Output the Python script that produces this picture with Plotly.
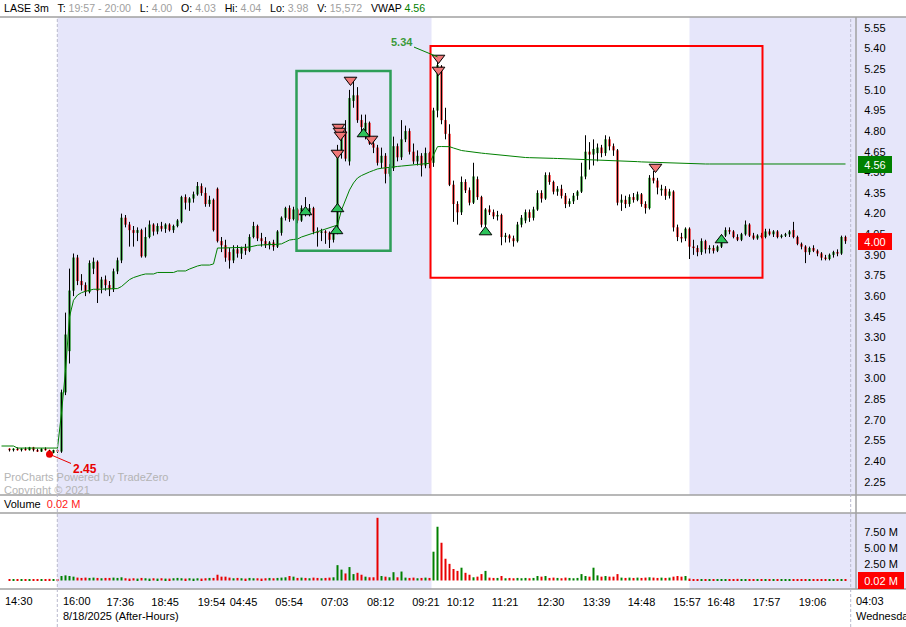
import plotly.graph_objects as go

# ---------------- data (one bar = one 6-minute slot on the session axis) ----------------
bar_index = list(range(2, 212))

opens = [
    2.49, 2.48, 2.49, 2.48, 2.49, 2.48, 2.50, 2.48, 2.47, 2.49,
    2.48, 2.46, 2.48, 2.47, 2.90, 3.20, 3.64, 3.88, 3.71, 3.68,
    3.63, 3.80, 3.85, 3.66, 3.72, 3.68, 3.65, 3.78, 3.86, 4.17,
    4.12, 4.08, 4.06, 4.08, 3.89, 4.03, 4.12, 4.07, 4.11, 4.09,
    4.12, 4.08, 4.11, 4.14, 4.32, 4.28, 4.31, 4.34, 4.40, 4.35,
    4.27, 4.30, 4.38, 4.00, 3.97, 3.92, 3.86, 3.94, 3.91, 3.95,
    3.93, 4.03, 4.11, 4.02, 4.00, 3.97, 3.99, 3.96, 4.06, 4.17,
    4.24, 4.16, 4.23, 4.15, 4.24, 4.20, 4.24, 4.07, 4.06, 4.07,
    4.06, 4.01, 4.07, 4.64, 4.80, 4.58, 5.02, 5.06, 4.88, 4.80,
    4.86, 4.71, 4.68, 4.57, 4.62, 4.49, 4.53, 4.69, 4.61, 4.74,
    4.80, 4.65, 4.58, 4.62, 4.55, 4.64, 4.57, 4.95, 5.27, 4.88,
    4.78, 4.41, 4.27, 4.21, 4.43, 4.37, 4.28, 4.45, 4.32, 4.12,
    4.23, 4.21, 4.18, 4.19, 4.03, 4.04, 4.02, 4.00, 4.12, 4.15,
    4.21, 4.17, 4.23, 4.35, 4.31, 4.48, 4.43, 4.36, 4.38, 4.33,
    4.27, 4.29, 4.33, 4.36, 4.47, 4.65, 4.63, 4.64, 4.68, 4.64,
    4.74, 4.69, 4.66, 4.28, 4.30, 4.27, 4.32, 4.30, 4.34, 4.27,
    4.24, 4.46, 4.44, 4.37, 4.38, 4.33, 4.36, 4.10, 4.03, 4.02,
    4.09, 3.96, 3.95, 3.92, 4.00, 3.94, 3.95, 3.93, 3.96, 4.04,
    4.08, 4.07, 4.03, 4.01, 4.05, 4.12, 4.04, 4.02, 4.04, 4.03,
    4.07, 4.05, 4.07, 4.03, 4.04, 4.05, 4.08, 4.03, 3.98, 3.96,
    3.92, 3.95, 3.93, 3.91, 3.88, 3.87, 3.90, 3.92, 3.91, 4.03,
]
highs = [
    2.49, 2.49, 2.50, 2.49, 2.50, 2.50, 2.50, 2.49, 2.49, 2.50,
    2.48, 2.48, 2.49, 2.92, 3.48, 3.80, 3.91, 3.90, 3.76, 3.70,
    3.86, 3.88, 3.86, 3.74, 3.75, 3.71, 3.80, 3.88, 4.20, 4.19,
    4.14, 4.11, 4.10, 4.09, 4.10, 4.15, 4.13, 4.13, 4.14, 4.13,
    4.13, 4.12, 4.16, 4.33, 4.34, 4.32, 4.36, 4.43, 4.42, 4.39,
    4.33, 4.31, 4.39, 4.03, 4.01, 3.95, 3.97, 3.97, 3.96, 3.98,
    4.05, 4.14, 4.12, 4.06, 4.03, 4.00, 4.01, 4.08, 4.18, 4.25,
    4.26, 4.25, 4.24, 4.26, 4.32, 4.27, 4.25, 4.10, 4.09, 4.08,
    4.07, 4.09, 4.70, 4.82, 4.88, 5.10, 5.16, 5.12, 4.92, 4.92,
    4.87, 4.76, 4.70, 4.68, 4.64, 4.56, 4.76, 4.71, 4.88, 4.84,
    4.82, 4.71, 4.66, 4.64, 4.68, 4.65, 4.97, 5.34, 5.28, 4.97,
    4.85, 4.44, 4.29, 4.47, 4.45, 4.39, 4.57, 4.47, 4.33, 4.24,
    4.26, 4.23, 4.22, 4.20, 4.06, 4.05, 4.04, 4.14, 4.19, 4.23,
    4.23, 4.25, 4.37, 4.37, 4.50, 4.50, 4.44, 4.40, 4.41, 4.35,
    4.31, 4.35, 4.37, 4.57, 4.77, 4.72, 4.74, 4.71, 4.70, 4.77,
    4.76, 4.71, 4.67, 4.34, 4.33, 4.34, 4.35, 4.36, 4.35, 4.29,
    4.48, 4.51, 4.46, 4.41, 4.40, 4.38, 4.37, 4.12, 4.06, 4.10,
    4.10, 4.01, 3.97, 4.02, 4.01, 3.97, 3.97, 3.97, 4.05, 4.10,
    4.10, 4.08, 4.05, 4.06, 4.15, 4.13, 4.06, 4.05, 4.06, 4.09,
    4.09, 4.08, 4.08, 4.05, 4.06, 4.08, 4.14, 4.04, 3.99, 3.97,
    3.96, 3.97, 3.94, 3.92, 3.90, 3.91, 3.93, 3.94, 4.04, 4.04,
]
lows = [
    2.47, 2.47, 2.48, 2.47, 2.48, 2.48, 2.47, 2.47, 2.47, 2.48,
    2.45, 2.46, 2.46, 2.46, 2.88, 3.11, 3.60, 3.68, 3.64, 3.60,
    3.62, 3.76, 3.55, 3.62, 3.64, 3.60, 3.63, 3.76, 3.84, 4.10,
    3.96, 3.96, 4.00, 3.88, 3.88, 4.02, 4.04, 4.05, 4.07, 4.06,
    4.07, 4.06, 4.10, 4.13, 4.23, 4.22, 4.28, 4.33, 4.33, 4.25,
    4.25, 4.07, 3.99, 3.92, 3.85, 3.80, 3.84, 3.88, 3.87, 3.90,
    3.92, 4.02, 4.00, 3.96, 3.95, 3.94, 3.93, 3.95, 4.04, 4.15,
    4.14, 4.15, 4.13, 4.14, 4.18, 4.18, 4.05, 3.96, 4.00, 3.98,
    3.95, 3.99, 4.05, 4.60, 4.58, 4.55, 4.97, 4.86, 4.78, 4.74,
    4.70, 4.64, 4.55, 4.53, 4.42, 4.47, 4.51, 4.58, 4.59, 4.72,
    4.63, 4.56, 4.55, 4.47, 4.53, 4.53, 4.54, 4.90, 4.85, 4.74,
    4.40, 4.14, 4.12, 4.19, 4.35, 4.26, 4.27, 4.30, 4.10, 4.10,
    4.19, 4.16, 4.15, 3.97, 3.99, 3.99, 3.96, 3.99, 4.10, 4.13,
    4.14, 4.15, 4.22, 4.28, 4.30, 4.41, 4.34, 4.33, 4.31, 4.24,
    4.25, 4.27, 4.30, 4.35, 4.45, 4.52, 4.55, 4.58, 4.61, 4.62,
    4.66, 4.62, 4.26, 4.22, 4.24, 4.25, 4.28, 4.29, 4.25, 4.20,
    4.23, 4.42, 4.34, 4.33, 4.30, 4.31, 4.07, 4.00, 3.99, 4.00,
    3.87, 3.90, 3.89, 3.90, 3.91, 3.91, 3.91, 3.92, 3.95, 4.03,
    4.05, 4.02, 4.00, 4.00, 4.04, 4.03, 4.01, 4.01, 4.02, 4.02,
    4.04, 4.03, 4.02, 4.02, 4.03, 4.03, 4.02, 3.97, 3.94, 3.84,
    3.90, 3.92, 3.89, 3.86, 3.86, 3.86, 3.88, 3.89, 3.90, 3.98,
]
closes = [
    2.48, 2.49, 2.48, 2.49, 2.48, 2.50, 2.48, 2.47, 2.49, 2.48,
    2.46, 2.48, 2.47, 2.90, 3.32, 3.64, 3.88, 3.71, 3.68, 3.63,
    3.84, 3.85, 3.64, 3.72, 3.68, 3.65, 3.78, 3.86, 4.17, 4.12,
    4.08, 4.06, 4.08, 3.89, 4.03, 4.12, 4.07, 4.11, 4.09, 4.12,
    4.08, 4.11, 4.15, 4.32, 4.28, 4.31, 4.34, 4.40, 4.35, 4.27,
    4.30, 4.08, 4.00, 3.97, 3.88, 3.86, 3.94, 3.91, 3.95, 3.93,
    4.03, 4.11, 4.02, 4.00, 3.97, 3.99, 3.96, 4.07, 4.17, 4.24,
    4.16, 4.23, 4.15, 4.24, 4.20, 4.24, 4.07, 4.06, 4.07, 4.06,
    4.01, 4.07, 4.64, 4.76, 4.60, 5.04, 5.06, 4.88, 4.83, 4.86,
    4.71, 4.68, 4.57, 4.62, 4.49, 4.53, 4.69, 4.61, 4.74, 4.80,
    4.65, 4.58, 4.62, 4.55, 4.64, 4.57, 4.95, 5.28, 4.88, 4.78,
    4.41, 4.27, 4.21, 4.43, 4.37, 4.28, 4.47, 4.32, 4.12, 4.23,
    4.21, 4.18, 4.19, 4.03, 4.04, 4.02, 4.00, 4.12, 4.17, 4.21,
    4.17, 4.23, 4.35, 4.31, 4.48, 4.43, 4.36, 4.38, 4.33, 4.27,
    4.29, 4.33, 4.36, 4.47, 4.65, 4.63, 4.67, 4.68, 4.64, 4.74,
    4.69, 4.66, 4.28, 4.30, 4.27, 4.32, 4.30, 4.34, 4.27, 4.24,
    4.46, 4.44, 4.39, 4.38, 4.33, 4.36, 4.10, 4.03, 4.02, 4.09,
    3.96, 3.95, 3.92, 4.00, 3.94, 3.95, 3.93, 3.96, 4.04, 4.08,
    4.07, 4.03, 4.01, 4.05, 4.12, 4.04, 4.02, 4.04, 4.03, 4.07,
    4.05, 4.07, 4.03, 4.04, 4.05, 4.07, 4.03, 3.98, 3.96, 3.92,
    3.95, 3.93, 3.91, 3.88, 3.87, 3.90, 3.92, 3.91, 4.03, 4.00,
]
volumes_m = [
    0.18, 0.15, 0.18, 0.15, 0.20, 0.15, 0.18, 0.15, 0.18, 0.20,
    0.25, 0.18, 0.20, 0.70, 0.80, 0.70, 0.60, 0.45, 0.40, 0.45,
    0.40, 0.45, 0.40, 0.35, 0.40, 0.40, 0.45, 0.40, 0.50, 0.35,
    0.30, 0.35, 0.30, 0.40, 0.35, 0.30, 0.35, 0.30, 0.35, 0.30,
    0.30, 0.35, 0.40, 0.35, 0.30, 0.35, 0.30, 0.35, 0.30, 0.35,
    0.40, 0.40, 0.90, 0.60, 0.60, 0.45, 0.35, 0.40, 0.35, 0.30,
    0.40, 0.35, 0.35, 0.30, 0.35, 0.40, 0.35, 0.40, 0.45, 0.50,
    0.70, 0.60, 0.40, 0.45, 0.40, 0.35, 0.45, 0.40, 0.35, 0.40,
    0.45, 0.50, 2.40, 1.70, 1.10, 2.10, 1.00, 1.20, 0.90, 0.60,
    0.50, 0.50, 9.80, 0.70, 0.60, 0.50, 1.30, 0.50, 1.40, 0.45,
    0.40, 0.45, 0.35, 0.40, 0.45, 0.40, 4.50, 8.40, 5.90, 3.40,
    2.60, 1.80, 1.50, 2.00, 1.20, 0.90, 0.50, 0.60, 1.00, 1.50,
    0.45, 0.40, 0.40, 0.70, 0.35, 0.40, 0.35, 0.40, 0.35, 0.40,
    0.35, 0.40, 0.70, 0.60, 0.70, 0.40, 0.45, 0.40, 0.35, 0.45,
    0.40, 0.35, 0.40, 1.00, 0.70, 0.60, 2.00, 0.80, 0.60, 0.70,
    0.60, 0.60, 1.00, 0.45, 0.40, 0.45, 0.40, 0.45, 0.40, 0.45,
    0.50, 0.45, 0.40, 0.45, 0.40, 0.45, 0.60, 0.70, 0.60, 0.70,
    0.30, 0.20, 0.18, 0.15, 0.18, 0.15, 0.18, 0.15, 0.20, 0.18,
    0.15, 0.18, 0.25, 0.15, 0.18, 0.15, 0.18, 0.20, 0.15, 0.18,
    0.15, 0.18, 0.15, 0.20, 0.18, 0.15, 0.18, 0.20, 0.15, 0.18,
    0.15, 0.20, 0.18, 0.15, 0.18, 0.15, 0.18, 0.15, 0.20, 0.18,
]
vwap_index = list(range(0, 212))
vwap = [
    2.510, 2.510, 2.510, 2.510, 2.495, 2.495, 2.495, 2.495, 2.495, 2.495,
    2.495, 2.495, 2.495, 2.495, 2.495, 2.750, 3.060, 3.450, 3.570, 3.608,
    3.625, 3.635, 3.642, 3.650, 3.650, 3.650, 3.650, 3.650, 3.650, 3.655,
    3.670, 3.692, 3.720, 3.735, 3.746, 3.754, 3.761, 3.761, 3.761, 3.772,
    3.772, 3.772, 3.772, 3.772, 3.783, 3.783, 3.783, 3.797, 3.810, 3.819,
    3.826, 3.826, 3.826, 3.834, 3.950, 3.950, 3.950, 3.950, 3.950, 3.950,
    3.950, 3.955, 3.957, 3.964, 3.970, 3.972, 3.975, 3.975, 3.975, 3.975,
    3.980, 3.994, 4.008, 4.012, 4.015, 4.030, 4.040, 4.050, 4.061, 4.070,
    4.078, 4.088, 4.098, 4.108, 4.117, 4.226, 4.299, 4.372, 4.423, 4.459,
    4.477, 4.492, 4.503, 4.514, 4.525, 4.530, 4.532, 4.534, 4.539, 4.543,
    4.546, 4.549, 4.551, 4.554, 4.557, 4.561, 4.563, 4.566, 4.626, 4.687,
    4.688, 4.688, 4.687, 4.677, 4.666, 4.659, 4.655, 4.650, 4.647, 4.643,
    4.640, 4.637, 4.634, 4.630, 4.626, 4.623, 4.619, 4.615, 4.613, 4.610,
    4.609, 4.608, 4.607, 4.607, 4.606, 4.606, 4.605, 4.603, 4.602, 4.601,
    4.600, 4.599, 4.598, 4.597, 4.597, 4.596, 4.595, 4.594, 4.593, 4.591,
    4.590, 4.589, 4.587, 4.586, 4.585, 4.583, 4.582, 4.581, 4.579, 4.578,
    4.576, 4.575, 4.573, 4.572, 4.570, 4.569, 4.567, 4.566, 4.565, 4.563,
    4.562, 4.562, 4.561, 4.561, 4.561, 4.561, 4.561, 4.561, 4.561, 4.561,
    4.561, 4.561, 4.561, 4.561, 4.561, 4.561, 4.561, 4.561, 4.561, 4.561,
    4.561, 4.561, 4.561, 4.561, 4.561, 4.561, 4.561, 4.561, 4.561, 4.561,
    4.561, 4.561, 4.561, 4.561, 4.561, 4.561, 4.561, 4.561, 4.561, 4.561,
    4.561, 4.561,
]

# trade signals (bar position, price)
sell_x = [87.25, 84.25, 84.5, 84.75, 84.0, 92.5, 109.25, 109.25, 163.5]
sell_p = [5.172, 4.830, 4.801, 4.772, 4.641, 4.743, 5.332, 5.245, 4.539]
buy_x = [76.0, 84.0, 83.75, 90.5, 121.0, 180.0]
buy_p = [4.212, 4.234, 4.074, 4.779, 4.066, 4.008]

# drawn boxes (bar position range, price range)
green_box = (73.75, 97.25, 3.930, 5.237)
red_box = (107.25, 190.25, 3.734, 5.419)

# sessions (bar positions of session edges)
ext_sessions = [(14.0, 107.5), (172.0, 222.0)]

price_ticks = [2.25, 2.40, 2.55, 2.70, 2.85, 3.00, 3.15, 3.30, 3.45, 3.60, 3.75, 3.90,
               4.05, 4.20, 4.35, 4.50, 4.65, 4.80, 4.95, 5.10, 5.25, 5.40, 5.55]
vol_ticks = [2.5, 5.0, 7.5]
vol_tick_text = ["2.50 M", "5.00 M", "7.50 M"]
time_tick_pos = [29.7, 40.9, 52.5, 60.5, 71.9, 83.3, 94.8, 106.1, 114.75, 125.9,
                 137.3, 148.75, 160.0, 171.4, 179.9, 191.25, 202.75]
time_tick_text = ["17:36", "18:45", "19:54", "04:45", "05:54", "07:03", "08:12", "09:21",
                  "10:12", "11:21", "12:30", "13:39", "14:48", "15:57", "16:48", "17:57", "19:06"]
day_labels = [(0.25, "14:30"), (14.9, "16:00"), (213.1, "04:03")]

hi_point = (109, 5.34)
lo_point = (12, 2.45)
last_price = 4.00
last_vwap = 4.56
last_volume = 0.02

# ---------------- styling ----------------
W, H = 906, 627
PR = 856          # right edge of plot area (px)
TOP, BOT = 17, 589
PH = BOT - TOP
FONT = "Liberation Sans, Arial, sans-serif"
GREEN = "#008000"
RED = "#E80000"
LAV = "#E6E6FA"
GRAYLINE = "#A0A0A0"
XR = [-0.375, 213.625]   # half-pixel shift keeps 1px wicks crisp


def py(ypx):
    return (BOT - ypx) / PH


def pxp(xpx):
    return xpx / PR


fig = go.Figure()

# wicks (black)
wx, wy = [], []
for x, lo, hi in zip(bar_index, lows, highs):
    wx += [x, x, None]
    wy += [lo, hi, None]
fig.add_trace(go.Scatter(x=wx, y=wy, mode="lines", line=dict(color="black", width=1),
                         hoverinfo="skip", xaxis="x", yaxis="y"))

# bodies
body_hi = [max(o, c) for o, c in zip(opens, closes)]
body_lo = [min(o, c) for o, c in zip(opens, closes)]
fig.add_trace(go.Candlestick(
    x=bar_index, open=opens, high=body_hi, low=body_lo, close=closes,
    increasing=dict(line=dict(color=GREEN, width=1), fillcolor=GREEN),
    decreasing=dict(line=dict(color=RED, width=1), fillcolor=RED),
    whiskerwidth=0, hoverinfo="skip", xaxis="x", yaxis="y"))

# VWAP
fig.add_trace(go.Scatter(x=vwap_index, y=vwap, mode="lines",
                         line=dict(color=GREEN, width=1), hoverinfo="skip",
                         xaxis="x", yaxis="y"))

# signals
fig.add_trace(go.Scatter(x=sell_x, y=sell_p, mode="markers",
                         marker=dict(symbol="triangle-down", size=11, color="#F07878",
                                     line=dict(color="black", width=1)),
                         hoverinfo="skip", xaxis="x", yaxis="y"))
fig.add_trace(go.Scatter(x=buy_x, y=buy_p, mode="markers",
                         marker=dict(symbol="triangle-up", size=11, color="#2CC35A",
                                     line=dict(color="black", width=1)),
                         hoverinfo="skip", xaxis="x", yaxis="y"))

# low dot
fig.add_trace(go.Scatter(x=[lo_point[0]], y=[lo_point[1]], mode="markers",
                         marker=dict(size=7, color=RED), hoverinfo="skip",
                         xaxis="x", yaxis="y"))

# volume
vol_colors = [GREEN if c >= o else RED for o, c in zip(opens, closes)]
fig.add_trace(go.Bar(x=bar_index, y=volumes_m, marker=dict(color=vol_colors, line=dict(width=0)),
                     width=0.5, hoverinfo="skip", xaxis="x2", yaxis="y2"))

shapes = []
# session backgrounds
for x0, x1 in ext_sessions:
    shapes.append(dict(type="rect", xref="x", yref="y", x0=x0, x1=x1, y0=0, y1=10,
                       fillcolor=LAV, line=dict(width=0), layer="below"))
    shapes.append(dict(type="rect", xref="x2", yref="y2", x0=x0, x1=x1, y0=-5, y1=20,
                       fillcolor=LAV, line=dict(width=0), layer="below"))
# right axis strip
for y0, y1 in [(py(495), py(TOP)), (py(BOT), py(513))]:
    shapes.append(dict(type="rect", xref="paper", yref="paper", x0=1, x1=W / PR,
                       y0=y0, y1=y1, fillcolor=LAV, line=dict(width=0), layer="below"))
# separators
for ypx in [TOP, 495, 513, BOT]:
    shapes.append(dict(type="line", xref="paper", yref="paper", x0=0, x1=W / PR,
                       y0=py(ypx), y1=py(ypx), line=dict(color=GRAYLINE, width=1.5)))
shapes.append(dict(type="line", xref="paper", yref="paper", x0=1, x1=1, y0=0, y1=1,
                   line=dict(color=GRAYLINE, width=1.5)))
for xpx in [57.3, 850.7]:
    shapes.append(dict(type="line", xref="paper", yref="paper", x0=pxp(xpx), x1=pxp(xpx),
                       y0=py(H), y1=1, line=dict(color="#B8B8CC", width=1, dash="3px,2px")))
# drawn boxes
gx0, gx1, gy0, gy1 = green_box
shapes.append(dict(type="rect", xref="x", yref="y", x0=gx0, x1=gx1, y0=gy0, y1=gy1,
                   line=dict(color="#2E9E58", width=2.5)))
rx0, rx1, ry0, ry1 = red_box
shapes.append(dict(type="rect", xref="x", yref="y", x0=rx0, x1=rx1, y0=ry0, y1=ry1,
                   line=dict(color="#FF0000", width=2)))

G = "<span style='color:#A0A0A0'>"
E = "</span>"
sp = "\u00a0\u00a0"
header = ("LASE 3m" + sp + " T: " + G + "19:57 - 20:00" + E + sp + " L: " + G + "4.00" + E +
          sp + " O: " + G + "4.03" + E + sp + " Hi: " + G + "4.04" + E + sp + " Lo: " + G +
          "3.98" + E + sp + " V: " + G + "15,572" + E + sp + " VWAP " +
          "<span style='color:#008000'>4.56</span>")

ann = [
    dict(text=header, xref="paper", yref="paper", x=pxp(2), y=py(8), xanchor="left",
         yanchor="middle", showarrow=False, font=dict(size=10.6, color="black", family=FONT)),
    dict(text="Volume\u00a0 <span style='color:#FF2020'>0.02 M</span>", xref="paper", yref="paper",
         x=pxp(2), y=py(504), xanchor="left", yanchor="middle", showarrow=False,
         font=dict(size=11, color="black", family=FONT)),
    dict(text="ProCharts Powered by TradeZero", xref="paper", yref="paper", x=pxp(2), y=py(477),
         xanchor="left", yanchor="middle", showarrow=False,
         font=dict(size=11, color="#B4B4B4", family=FONT)),
    dict(text="Copyright © 2021", xref="paper", yref="paper", x=pxp(2), y=py(490),
         xanchor="left", yanchor="middle", showarrow=False,
         font=dict(size=11, color="#B4B4B4", family=FONT)),
    dict(text="<b>%.2f</b>" % hi_point[1], xref="x", yref="y", x=hi_point[0], y=hi_point[1],
         ax=-36, ay=-15, showarrow=True, arrowhead=0, arrowwidth=1, arrowcolor=GREEN,
         font=dict(size=11, color="#3A9A3A", family=FONT)),
    dict(text="<b>%.2f</b>" % lo_point[1], xref="x", yref="y", x=lo_point[0], y=lo_point[1],
         ax=35, ay=15, showarrow=True, arrowhead=0, arrowwidth=1, arrowcolor=RED,
         font=dict(size=12, color=RED, family=FONT)),
    dict(text="8/18/2025 (After-Hours)", xref="x", yref="paper", x=14.9, y=py(616),
         xanchor="left", yanchor="middle", showarrow=False,
         font=dict(size=11, color="black", family=FONT)),
    dict(text="Wednesday", xref="paper", yref="paper", x=pxp(853.5), y=py(616),
         xanchor="left", yanchor="middle", showarrow=False,
         font=dict(size=11, color="black", family=FONT)),
]
for xv, t in day_labels:
    ann.append(dict(text=t, xref="x", yref="paper", x=xv, y=py(601), xanchor="left",
                    yanchor="middle", showarrow=False,
                    font=dict(size=11, color="black", family=FONT)))
# value tags
for yref, yv, txt, col, wdt in [("y", last_vwap, "%.2f" % last_vwap, GREEN, 30),
                                ("y", last_price, "%.2f" % last_price, "#FF0000", 30),
                                ("y2", last_volume, "%.2f M" % last_volume, "#FF0000", 42)]:
    ann.append(dict(text=txt, xref="paper", yref=yref, x=pxp(858), y=yv, xanchor="left",
                    yanchor="middle", showarrow=False, bgcolor=col, bordercolor=col,
                    borderpad=1, width=wdt, height=13, align="center",
                    font=dict(size=11, color="white", family=FONT)))

fig.update_layout(
    width=W, height=H, margin=dict(l=0, r=W - PR, t=TOP, b=H - BOT, pad=0),
    paper_bgcolor="white", plot_bgcolor="white", showlegend=False, hovermode=False,
    boxgap=0.6, bargap=0.5,
    font=dict(family=FONT, size=11, color="black"),
    xaxis=dict(domain=[0, 1], range=XR, anchor="y", showticklabels=False,
               showgrid=False, zeroline=False, ticks="", rangeslider=dict(visible=False),
               fixedrange=True),
    xaxis2=dict(domain=[0, 1], matches="x", anchor="y2", showgrid=False, zeroline=False,
                tickvals=time_tick_pos, ticktext=time_tick_text, ticks="outside", ticklen=3,
                tickcolor="rgba(0,0,0,0)", tickfont=dict(size=11, color="black", family=FONT)),
    yaxis=dict(domain=[py(495), 1], range=[2.1536, 5.63], side="right", anchor="x",
               tickvals=price_ticks, tickformat=".2f", ticks="outside", ticklen=5,
               tickcolor="rgba(0,0,0,0)", showgrid=False, zeroline=False,
               tickfont=dict(size=11, color="black", family=FONT)),
    yaxis2=dict(domain=[0, py(513)], range=[-1.33, 10.55], side="right", anchor="x2",
                tickvals=vol_ticks, ticktext=vol_tick_text, ticks="outside", ticklen=5,
                tickcolor="rgba(0,0,0,0)", showgrid=False, zeroline=False,
                tickfont=dict(size=11, color="black", family=FONT)),
    shapes=shapes, annotations=ann,
)

fig.write_html("out.html", config={"displayModeBar": False},
               post_script="document.body.style.margin='0';document.body.style.overflow='hidden';")
